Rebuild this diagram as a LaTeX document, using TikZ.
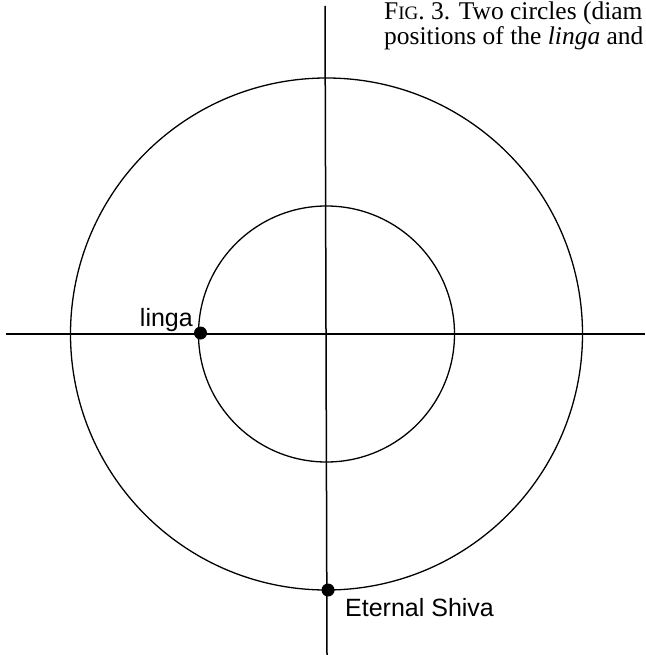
\documentclass[tikz,border=0pt]{standalone}
\usepackage{fontspec}
\setmainfont{Liberation Serif}
\newfontfamily\labelfont{Liberation Sans}
\usetikzlibrary{positioning}

\tikzset{
  axis/.style={line width=1.5pt},
  ring/.style={line width=1.3pt},
  spot/.style={circle, fill=black, inner sep=0pt, minimum size=13pt},
  tag/.style={font=\labelfont\fontsize{25}{28}\selectfont, inner sep=0pt}
}

\begin{document}
\begin{tikzpicture}[x=1pt, y=-1pt]
  \useasboundingbox (0,0) rectangle (645,655);
  \coordinate (c) at (326.5,334);
  % axes
  \coordinate (top) at (325,6);
  \coordinate (bot) at (327,655);
  \coordinate (lft) at (6,334);
  \coordinate (rgt) at (645,334);
  \draw[axis] (top) -- (bot);
  \draw[axis] (lft) -- (rgt);
  % the two circles
  \draw[ring] (c) circle[radius=256];
  \draw[ring] (c) circle[radius=128];
  % points
  \node (linga) [spot] at (200.5,333) {};
  \node (shiva) [spot] at (328,590) {};
  \node (lingalbl) [tag, anchor=base east] at (193,326) {linga};
  \node (shivalbl) [tag, anchor=base west] at (345,616) {Eternal\ Shiva};
  % caption
  \node (cap) [anchor=north west, align=left, inner sep=0pt,
               font=\fontsize{25.5}{25}\selectfont] at (384,2)
    {F{\fontsize{19}{25}\selectfont IG}. 3. Two circles (diam\\positions of the \emph{linga} and};
\end{tikzpicture}
\end{document}
